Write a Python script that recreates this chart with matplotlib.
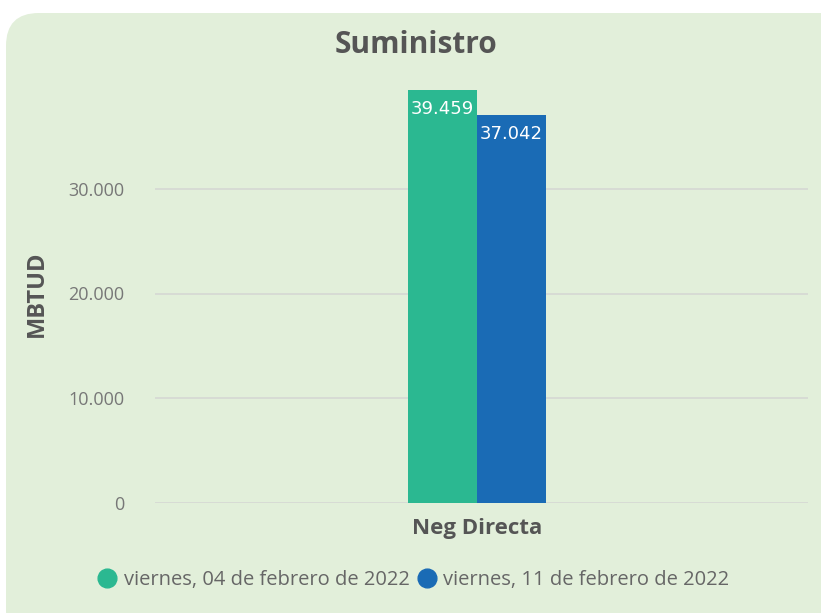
import matplotlib.pyplot as plt
import numpy as np
from matplotlib.patches import FancyBboxPatch
from matplotlib.lines import Line2D

categories = ["Neg Directa"]
series_names = ["viernes, 04 de febrero de 2022", "viernes, 11 de febrero de 2022"]
values_0402 = [39459]
values_1102 = [37042]
tick_vals = [0, 10000, 20000, 30000]
tick_labels = ["0", "10.000", "20.000", "30.000"]
colors = ["#2BB891", "#1A6BB5"]

plt.rcParams['font.family'] = ['Open Sans', 'DejaVu Sans']

fig = plt.figure(figsize=(8.21, 6.13), dpi=100)
fig.patch.set_facecolor("white")

# rounded green panel
panel = FancyBboxPatch((6/821, -0.05), 1.2, 1 - 13/613 + 0.05,
                       boxstyle="round,pad=0,rounding_size=0.04",
                       transform=fig.transFigure, facecolor="#E2EFDA",
                       edgecolor="none", zorder=-10, mutation_aspect=821/613)
fig.patches.append(panel)

ax = fig.add_axes([155/821, 1 - 503/613, (808 - 155)/821, (503 - 84)/613])
ax.set_facecolor("none")
ax.set_ylim(0, 40000)
ax.set_xlim(-0.493, 0.507)

x = np.arange(len(categories))
w = 0.106
b1 = ax.bar(x - w/2, values_0402, w, color=colors[0], zorder=3)
b2 = ax.bar(x + w/2, values_1102, w, color=colors[1], zorder=3)

for bars, vals in [(b1, values_0402), (b2, values_1102)]:
    for r, v in zip(bars, vals):
        ax.text(r.get_x() + r.get_width()/2, v - 1000, f"{v:,}".replace(",", "."),
                ha="center", va="top", color="white", fontsize=13,
                family=['DejaVu Sans'], zorder=4)

ax.set_yticks(tick_vals)
ax.set_yticklabels(tick_labels, color="#777777", fontsize=13)
ax.set_xticks(x)
ax.set_xticklabels(categories, fontsize=16, fontweight="bold", color="#555555")
ax.tick_params(axis="both", length=0)
ax.tick_params(axis="x", pad=11)
ax.tick_params(axis="y", pad=22)
ax.grid(axis="y", color="#D5D8D3", linewidth=1.2, zorder=1)
for s in ax.spines.values():
    s.set_visible(False)

ax.set_ylabel("MBTUD", fontsize=17, fontweight="bold", color="#555555", labelpad=14)

fig.text(416.5/821, 1 - 45/613, "Suministro", ha="center", va="center",
         fontsize=21.5, fontweight="bold", color="#555555")

handles = [Line2D([], [], marker="o", linestyle="none", markersize=13.5,
                  markerfacecolor=c, markeredgecolor=c) for c in colors]
fig.legend(handles, series_names, loc="center", bbox_to_anchor=(0.497, 1 - 580/613),
           ncol=2, frameon=False, fontsize=14.5, handletextpad=-0.2,
           columnspacing=-0.15, labelcolor="#666666")

fig.savefig("out.png", dpi=100, facecolor=fig.get_facecolor())
